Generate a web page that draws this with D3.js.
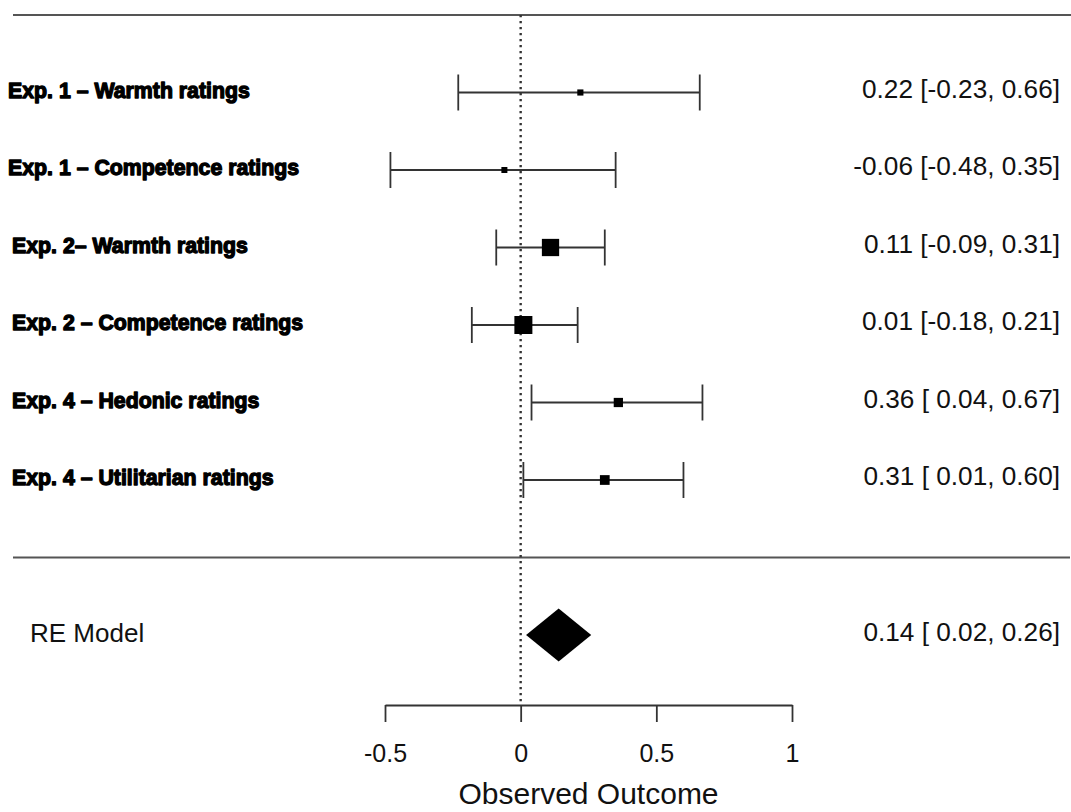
<!DOCTYPE html>
<html>
<head>
<meta charset="utf-8">
<script src="https://cdn.jsdelivr.net/npm/d3@7/dist/d3.min.js"></script>
<style>
  html, body { margin: 0; padding: 0; background: #fff; }
  svg { display: block; }
</style>
</head>
<body>
<svg id="chart" width="1071" height="812"></svg>
<script>
// ---------- data ----------
const studies = [
  "Exp. 1 \u2013 Warmth ratings",
  "Exp. 1 \u2013 Competence ratings",
  "Exp. 2\u2013 Warmth ratings",
  "Exp. 2 \u2013 Competence ratings",
  "Exp. 4 \u2013 Hedonic ratings",
  "Exp. 4 \u2013 Utilitarian ratings"
];
const estimates = [0.22, -0.06, 0.11, 0.01, 0.36, 0.31];
const ciLower   = [-0.23, -0.48, -0.09, -0.18, 0.04, 0.01];
const ciUpper   = [0.66, 0.35, 0.31, 0.21, 0.67, 0.60];
const weights   = [6.5, 6.2, 29.5, 31.0, 12.9, 13.9];   // estimated study weights (%)
const reLabel = "RE Model";
const reEstimate = 0.14, reLower = 0.02, reUpper = 0.26;
const xTicks = [-0.5, 0, 0.5, 1];
const xTitle = "Observed Outcome";

// ---------- layout ----------
const W = 1071, H = 812;
const svg = d3.select("#chart");
const k = studies.length;
const fmt = v => v.toFixed(2);
const fmtLo = v => (v < 0 ? v.toFixed(2) : " " + v.toFixed(2));
const annot = (e, lo, hi) => `${fmt(e)} [${fmtLo(lo)}, ${fmt(hi)}]`;

const x = d3.scaleLinear().domain([-0.5, 1]).range([385, 792]);
// row index: k (top study) ... 1 (bottom study), 0 = separator, -1 = RE model
const y = d3.scaleLinear().domain([1, 6]).range([480, 92.5]);
const axisY = 705;
const sizeScale = d3.scaleLinear().domain(d3.extent(weights)).range([6, 18]);
const labelIndent = [8, 8, 12, 12, 12, 12];
const lineCol = "#333";
const font = "'Liberation Sans', Arial, sans-serif";
const annSize = 26.2;

// horizontal rules
svg.append("line").attr("x1", 13).attr("x2", W).attr("y1", y(k + 1)).attr("y2", y(k + 1))
  .attr("stroke", "#555").attr("stroke-width", 2);
svg.append("line").attr("x1", 13).attr("x2", W - 1).attr("y1", y(0)).attr("y2", y(0))
  .attr("stroke", "#555").attr("stroke-width", 2);

// reference line at 0
svg.append("line").attr("x1", x(0)).attr("x2", x(0)).attr("y1", y(k + 1)).attr("y2", axisY)
  .attr("stroke", "#333").attr("stroke-width", 2.4).attr("stroke-dasharray", "2.2,3.8");

const rows = studies.map((s, i) => ({
  label: s, est: estimates[i], lo: ciLower[i], hi: ciUpper[i], w: weights[i],
  row: k - i, indent: labelIndent[i]
}));

const rg = svg.append("g").selectAll("g.row").data(rows).join("g").attr("class", "row");

// CI lines
rg.append("line")
  .attr("x1", d => x(d.lo)).attr("x2", d => x(d.hi))
  .attr("y1", d => y(d.row)).attr("y2", d => y(d.row))
  .attr("stroke", lineCol).attr("stroke-width", 1.8);
// caps
rg.append("line")
  .attr("x1", d => x(d.lo)).attr("x2", d => x(d.lo))
  .attr("y1", d => y(d.row) - 18).attr("y2", d => y(d.row) + 18)
  .attr("stroke", lineCol).attr("stroke-width", 1.8);
rg.append("line")
  .attr("x1", d => x(d.hi)).attr("x2", d => x(d.hi))
  .attr("y1", d => y(d.row) - 18).attr("y2", d => y(d.row) + 18)
  .attr("stroke", lineCol).attr("stroke-width", 1.8);
// squares
rg.append("rect")
  .attr("x", d => x(d.est) - sizeScale(d.w) / 2)
  .attr("y", d => y(d.row) - sizeScale(d.w) / 2)
  .attr("width", d => sizeScale(d.w)).attr("height", d => sizeScale(d.w))
  .attr("fill", "#000");
// study labels
rg.append("text")
  .attr("x", d => d.indent).attr("y", d => y(d.row) + 5)
  .attr("font-family", font)
  .attr("font-weight", "bold").attr("font-size", 21.3)
  .attr("fill", "#000").attr("stroke", "#000").attr("stroke-width", 1.3)
  .attr("stroke-linejoin", "round")
  .text(d => d.label);
// annotations
rg.append("text")
  .attr("x", 1060).attr("y", d => y(d.row) + 5)
  .attr("text-anchor", "end")
  .attr("font-family", font)
  .attr("font-size", annSize).attr("fill", "#111")
  .style("white-space", "pre")
  .text(d => annot(d.est, d.lo, d.hi));

// RE model diamond
const reRow = -1;
svg.append("path")
  .attr("d", d3.line()([
    [x(reLower), y(reRow)], [x(reEstimate), y(reRow) - 26.5],
    [x(reUpper), y(reRow)], [x(reEstimate), y(reRow) + 26.5]
  ]) + "Z")
  .attr("fill", "#000");
svg.append("text")
  .attr("x", 30).attr("y", y(reRow) + 7)
  .attr("font-family", font)
  .attr("font-size", 26).attr("fill", "#111")
  .text(reLabel);
svg.append("text")
  .attr("x", 1060).attr("y", y(reRow) + 6)
  .attr("text-anchor", "end")
  .attr("font-family", font)
  .attr("font-size", annSize).attr("fill", "#111")
  .style("white-space", "pre")
  .text(annot(reEstimate, reLower, reUpper));

// x axis
const axis = d3.axisBottom(x).tickValues(xTicks).tickSize(17).tickSizeOuter(0)
  .tickPadding(22).tickFormat(d => String(d));
const ag = svg.append("g").attr("transform", `translate(0,${axisY})`).call(axis);
ag.select(".domain").attr("stroke", lineCol).attr("stroke-width", 1.8);
ag.selectAll(".tick line").attr("stroke", lineCol).attr("stroke-width", 1.8);
ag.selectAll(".tick text")
  .attr("font-family", font)
  .attr("font-size", 25).attr("fill", "#111");

svg.append("text")
  .attr("x", (x.range()[0] + x.range()[1]) / 2).attr("y", 804)
  .attr("text-anchor", "middle")
  .attr("font-family", font)
  .attr("font-size", 30).attr("fill", "#111")
  .text(xTitle);
</script>
</body>
</html>
